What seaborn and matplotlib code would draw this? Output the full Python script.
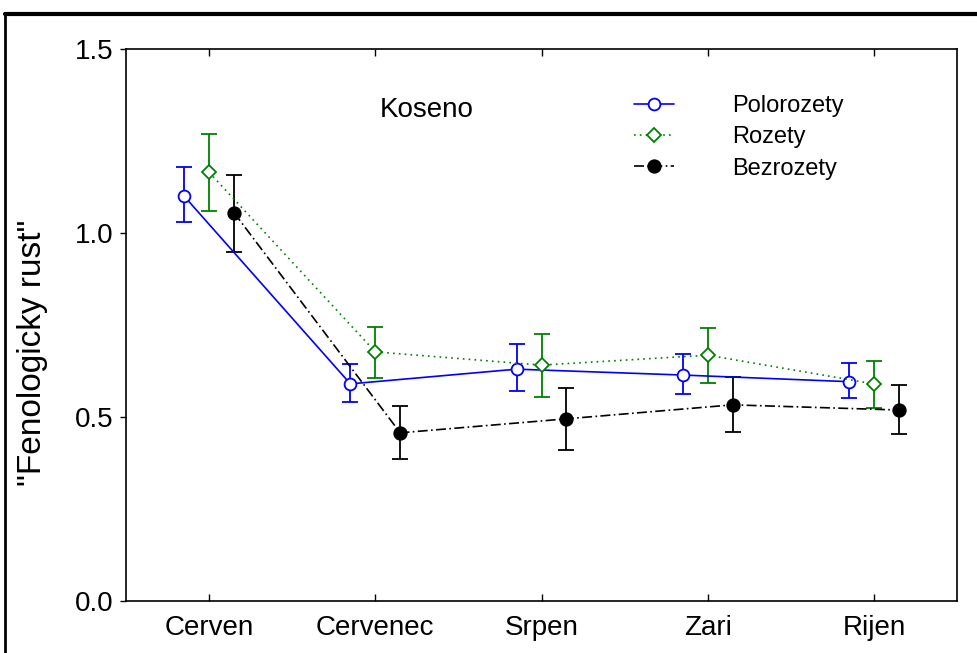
import matplotlib
matplotlib.use("Agg")
import matplotlib.pyplot as plt
from matplotlib.lines import Line2D
import seaborn as sns
import numpy as np
import pandas as pd

months = ["Cerven", "Cervenec", "Srpen", "Zari", "Rijen"]
series = ["Polorozety", "Rozety", "Bezrozety"]

polorozety = [1.10, 0.59, 0.63, 0.614, 0.596]
polorozety_lo = [1.03, 0.54, 0.571, 0.562, 0.552]
polorozety_hi = [1.18, 0.644, 0.698, 0.671, 0.647]

rozety = [1.165, 0.677, 0.641, 0.668, 0.59]
rozety_lo = [1.06, 0.606, 0.554, 0.592, 0.524]
rozety_hi = [1.27, 0.745, 0.725, 0.742, 0.652]

bezrozety = [1.055, 0.457, 0.495, 0.533, 0.519]
bezrozety_lo = [0.948, 0.386, 0.41, 0.459, 0.454]
bezrozety_hi = [1.158, 0.53, 0.58, 0.609, 0.587]

yticks = [0.0, 0.5, 1.0, 1.5]
ylabel = '"Fenologicky rust"'
annotation = "Koseno"

sns.set_style("white")
plt.rcParams['font.family'] = ['Liberation Sans', 'DejaVu Sans']
plt.rcParams['text.color'] = 'black'
plt.rcParams['axes.labelcolor'] = 'black'
plt.rcParams['xtick.color'] = 'black'
plt.rcParams['ytick.color'] = 'black'

fig = plt.figure(figsize=(9.78, 6.53), dpi=100)
ax = fig.add_axes([126/978, 1-601/653, (957-126)/978, (601-49)/653])

styles = {
    "Polorozety": dict(color="#0000ff", marker="o", ls="-", mfc="white", ms=8.5, off=-0.15),
    "Rozety": dict(color="#008000", marker="D", ls=(0, (1, 2.5)), mfc="white", ms=7, off=0.0),
    "Bezrozety": dict(color="#000000", marker="o", ls=(0, (6, 2, 1, 2)), mfc="black", ms=9, off=0.15),
}
vals = {"Polorozety": (polorozety, polorozety_lo, polorozety_hi),
        "Rozety": (rozety, rozety_lo, rozety_hi),
        "Bezrozety": (bezrozety, bezrozety_lo, bezrozety_hi)}

handles = []
base = np.arange(len(months))
for name in series:
    st = styles[name]
    m, lo, hi = (np.array(v) for v in vals[name])
    xpos = base + st["off"]
    df = pd.DataFrame({"x": xpos, "y": m})
    ax.errorbar(xpos, m, yerr=[m - lo, hi - m], fmt="none", ecolor=st["color"],
                elinewidth=1.3, capsize=6, capthick=1.3, zorder=2)
    sns.lineplot(data=df, x="x", y="y", ax=ax, color=st["color"], linestyle=st["ls"],
                 linewidth=1.2, marker=st["marker"], markersize=st["ms"],
                 markerfacecolor=st["mfc"], markeredgecolor=st["color"], markeredgewidth=1.3,
                 zorder=3, legend=False)
    handles.append(Line2D([0], [0], color=st["color"], linestyle=st["ls"], linewidth=1.2,
                          marker=st["marker"], markersize=st["ms"], markerfacecolor=st["mfc"],
                          markeredgecolor=st["color"], markeredgewidth=1.3, label=name))

ax.set_xlim(-0.5, len(months) - 0.5)
ax.set_ylim(0, 1.5)
ax.set_xticks(base)
ax.set_xticklabels(months, fontsize=20, color="black")
ax.set_yticks(yticks)
ax.set_yticklabels([f"{t:.1f}" for t in yticks], fontsize=20, color="black")
ax.tick_params(axis="x", direction="in", top=True, bottom=True, length=5, width=1, pad=10)
ax.tick_params(axis="y", direction="out", left=True, length=4, width=1, pad=5)
ax.set_xlabel("")
ax.set_ylabel(ylabel, fontsize=24, color="black")
ax.yaxis.set_label_coords(-(126 - 33) / 831, 0.45)
ax.yaxis.label.set_va("center")
for s in ax.spines.values():
    s.set_color("black")
    s.set_linewidth(1.2)

ax.text(1.31, 1.334, annotation, fontsize=20, ha="center", va="center", color="black")

leg = ax.legend(handles=handles, loc="upper left", bbox_to_anchor=(0.611, 0.917),
                frameon=False, fontsize=17, handlelength=1.7, handletextpad=2.45,
                labelspacing=0.4, borderpad=0, borderaxespad=0, labelcolor="black")

fig.add_artist(Line2D([4.5/978, 1.0], [1-14/653, 1-14/653], color="black", lw=3,
                      transform=fig.transFigure))
fig.add_artist(Line2D([4.5/978, 4.5/978], [0, 1-14/653], color="black", lw=2,
                      transform=fig.transFigure))

fig.savefig("out.png", dpi=100)
